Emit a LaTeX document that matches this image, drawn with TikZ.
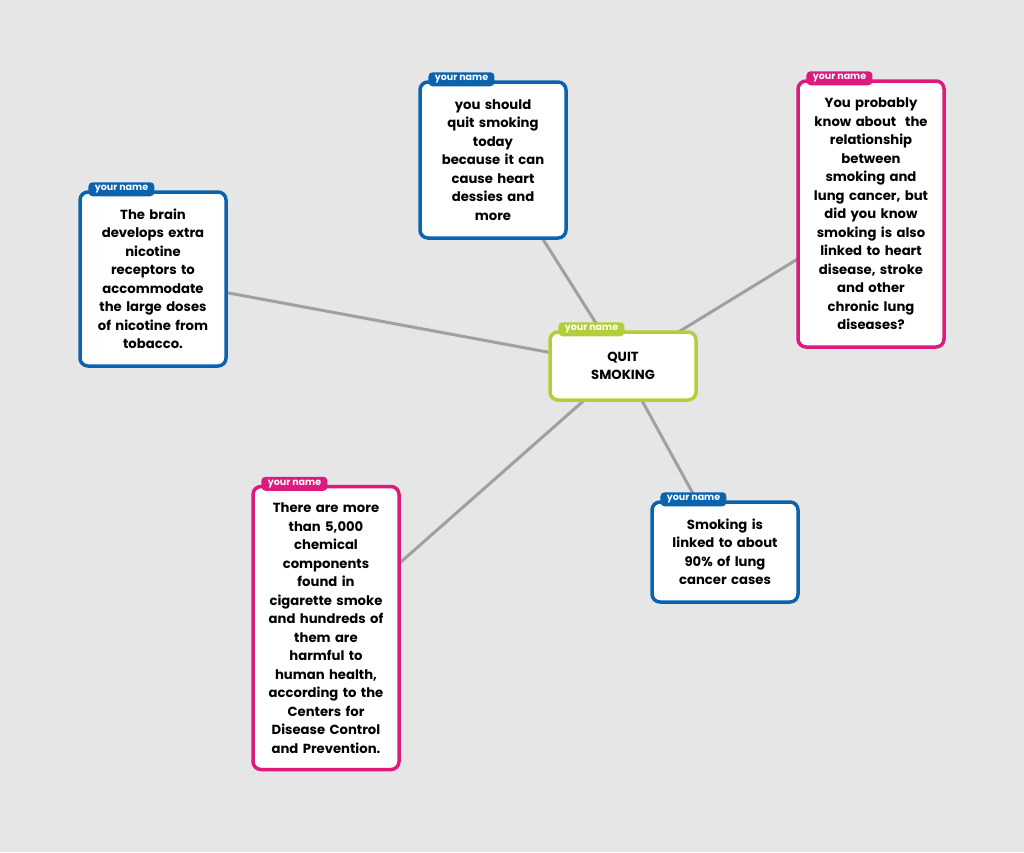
\documentclass[tikz,border=0pt]{standalone}
\usepackage{fontspec}
\setmainfont{Poppins}
\usetikzlibrary{positioning,backgrounds}
\definecolor{paper}{HTML}{E6E6E6}
\definecolor{mapblue}{HTML}{0B63AE}
\definecolor{mappink}{HTML}{DD1A7E}
\definecolor{maplime}{HTML}{B3CE3B}
\definecolor{linkgrey}{HTML}{A0A0A0}
\tikzset{
  % boxes
  note/.style={rectangle,rounded corners=8pt,draw=#1,fill=white,line width=3.5pt,
               minimum width=146pt,text width=136pt,align=center,inner sep=0pt,
               font=\fontsize{13.2}{18.5}\selectfont\bfseries},
  tab/.style={rectangle,rounded corners=4pt,fill=#1,text=white,anchor=west,
              minimum width=66pt,minimum height=14pt,inner sep=0pt,
              font=\fontsize{9.5}{10}\selectfont\bfseries},
  % links
  link/.style={draw=linkgrey,line width=3pt},
}
\begin{document}
\begin{tikzpicture}[x=1pt,y=-1pt]
\useasboundingbox (0,0) rectangle (1024,852);
  \node[note=maplime,minimum height=68pt] (quit) at (623,366) {QUIT\\SMOKING};
  \node[note=mapblue,minimum height=156pt] (today) at (493,160)
    {you should\\quit smoking\\today\\because it can\\cause heart\\dessies and\\more};
  \node[note=mapblue,minimum height=174pt] (brain) at (153,279)
    {The brain\\develops extra\\nicotine\\receptors to\\accommodate\\the large doses\\of nicotine from\\tobacco.};
  \node[note=mappink,minimum height=266pt] (heart) at (871,214)
    {You probably\\know about\ \ the\\relationship\\between\\smoking and\\lung cancer, but\\did you know\\smoking is also\\linked to heart\\disease, stroke\\and other\\chronic lung\\diseases?};
  \node[note=mapblue,minimum height=100pt] (lung) at (725,552)
    {Smoking is\\linked to about\\90\% of lung\\cancer cases};
  \node[note=mappink,minimum height=283pt] (smoke) at (326,628)
    {There are more\\than 5,000\\chemical\\components\\found in\\cigarette smoke\\and hundreds of\\them are\\harmful to\\human health,\\according to the\\Centers for\\Disease Control\\and Prevention.};
  \node[tab=maplime] (quitname) at ([xshift=10pt,yshift=1pt]quit.north west) {your name};
  \node[tab=mapblue] (todayname) at ([xshift=10pt,yshift=1pt]today.north west) {your name};
  \node[tab=mapblue] (brainname) at ([xshift=10pt,yshift=1pt]brain.north west) {your name};
  \node[tab=mappink] (heartname) at ([xshift=10pt,yshift=1pt]heart.north west) {your name};
  \node[tab=mapblue] (lungname) at ([xshift=10pt,yshift=1pt]lung.north west) {your name};
  \node[tab=mappink] (smokename) at ([xshift=10pt,yshift=1pt]smoke.north west) {your name};
  \begin{scope}[on background layer]
    \fill[paper] (0,0) rectangle (1024,852);
    \draw[link] (quit.center) -- (today.center);
    \draw[link] (quit.center) -- (brain.center);
    \draw[link] (quit.center) -- (heart.center);
    \draw[link] (quit.center) -- (lung.center);
    \draw[link] (quit.center) -- (smoke.center);
  \end{scope}
\end{tikzpicture}
\end{document}
